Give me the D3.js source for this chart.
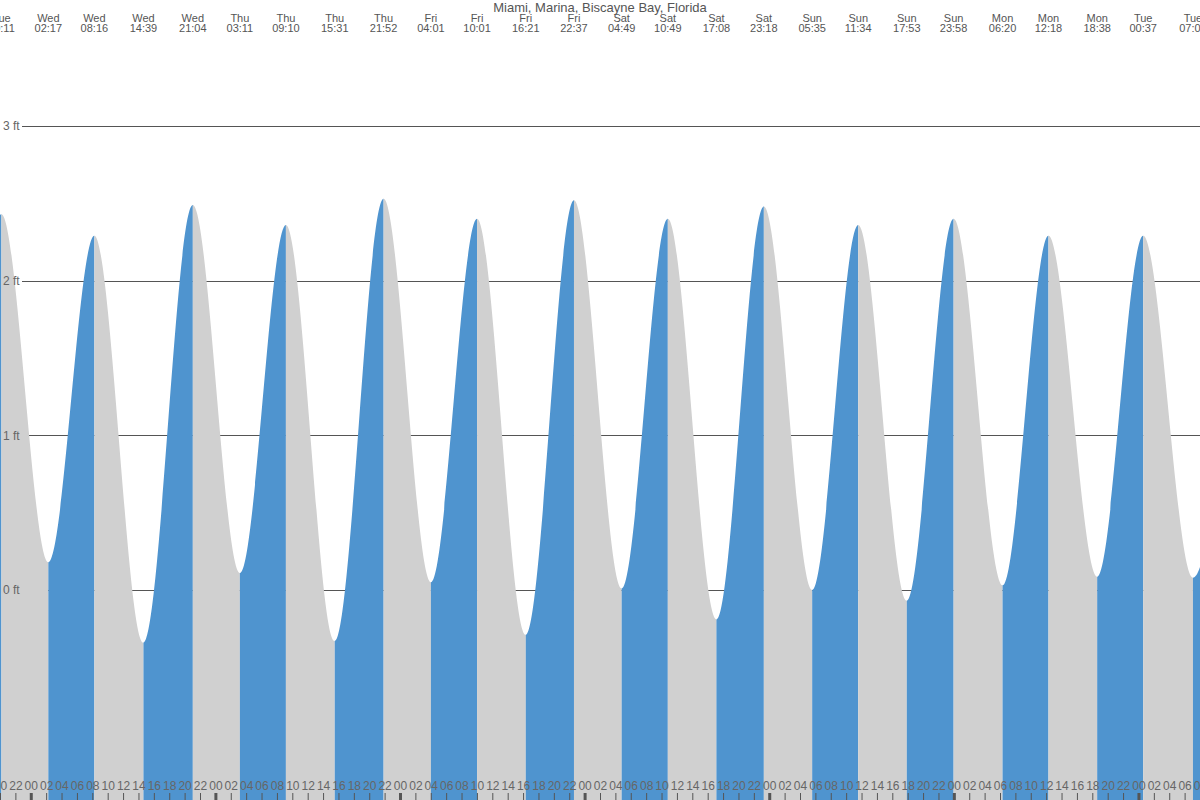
<!DOCTYPE html>
<html>
<head>
<meta charset="utf-8">
<script src="https://cdn.jsdelivr.net/npm/d3@7"></script>
<style>
  body { margin: 0; background: #fff; }
  svg { display: block; font-family: "Liberation Sans", Arial, sans-serif; }
</style>
</head>
<body>
<div id="chart"></div>
<script>
// Tide extremes as labelled along the top of the chart
const tideDays = ["Tue","Wed","Wed","Wed","Wed","Thu","Thu","Thu","Thu","Fri","Fri","Fri","Fri",
                  "Sat","Sat","Sat","Sat","Sun","Sun","Sun","Sun","Mon","Mon","Mon","Tue","Tue"];
const tideTimes = ["20:11","02:17","08:16","14:39","21:04","03:11","09:10","15:31","21:52","04:01","10:01","16:21","22:37",
                   "04:49","10:49","17:08","23:18","05:35","11:34","17:53","23:58","06:20","12:18","18:38","00:37","07:05"];
const tideHeights = [2.43, 0.18, 2.29, -0.34, 2.49, 0.11, 2.36, -0.33, 2.53, 0.05, 2.40, -0.29, 2.52,
                     0.01, 2.40, -0.19, 2.48, 0.00, 2.36, -0.07, 2.40, 0.03, 2.29, 0.085, 2.29, 0.08];

// estimated extremes just outside the window (hours from Wed 00:00), so the curve runs to the edges
const edgeBefore = { t: -10.2, h: -0.30 };
const edgeAfter = { t: 157.3, h: 2.30 };

const yTicks = [0, 1, 2, 3];
const hourTicks = d3.range(-4, 153, 2); // hours from Wed 00:00
const title = "Miami, Marina, Biscayne Bay, Florida";

const width = 1200, height = 800;
const dayOrder = ["Tue","Wed","Thu","Fri","Sat","Sun","Mon","Tue"];

// turn day name + clock time into hours from Wed 00:00
let dayIdx = 0;
const tides = tideDays.map(function(d, i) {
    if (d !== dayOrder[dayIdx]) dayIdx++;
    let hm = tideTimes[i].split(":");
    return {
        day: d,
        time: tideTimes[i],
        t: (dayIdx - 1) * 24 + (+hm[0]) + (+hm[1]) / 60,
        h: tideHeights[i]
    };
});
const curvePts = [edgeBefore].concat(tides, [edgeAfter]);

let x = d3.scaleLinear().domain([-4, 152]).range([0, width]);
let y = d3.scaleLinear().domain([0, 3]).range([590, 126]);

let svg = d3.select("#chart").append("svg")
    .attr("width", width)
    .attr("height", height);

// grid lines (under the tide fill)
svg.append("g").selectAll("line")
    .data(yTicks)
    .enter().append("line")
    .attr("x1", 22).attr("x2", width)
    .attr("y1", d => Math.round(y(d)) + 0.5)
    .attr("y2", d => Math.round(y(d)) + 0.5)
    .attr("stroke", "#555")
    .attr("stroke-width", 1);

// area under the tide curve, used as clip
let area = d3.area()
    .x(d => x(d.t))
    .y0(height)
    .y1(d => y(d.h))
    .curve(d3.curveMonotoneX);

svg.append("clipPath").attr("id", "tide-clip")
    .append("path")
    .attr("d", area(curvePts));

// rising stretches blue, falling stretches grey
let segs = d3.pairs(curvePts);
svg.append("g")
    .attr("clip-path", "url(#tide-clip)")
    .selectAll("rect")
    .data(segs)
    .enter().append("rect")
    .attr("x", d => x(d[0].t))
    .attr("width", d => x(d[1].t) - x(d[0].t))
    .attr("y", 0)
    .attr("height", height)
    .attr("fill", d => d[1].h > d[0].h ? "#4f94cf" : "#d0d0d0");

// y labels
svg.append("g").selectAll("text")
    .data(yTicks)
    .enter().append("text")
    .attr("x", 3)
    .attr("y", d => y(d))
    .attr("dy", "0.35em")
    .attr("font-size", 12)
    .attr("fill", "#666")
    .text(d => d + " ft");

// hour axis along the bottom
let axis = svg.append("g")
    .attr("transform", "translate(0," + height + ")")
    .call(d3.axisTop(x)
        .tickValues(hourTicks)
        .tickSize(7)
        .tickPadding(3)
        .tickFormat(d => String(((d % 24) + 24) % 24).padStart(2, "0")));
axis.select(".domain").remove();
axis.selectAll(".tick line")
    .attr("stroke", "#555")
    .attr("stroke-width", d => (((d % 24) + 24) % 24) === 0 ? 3 : 1);
axis.selectAll(".tick text")
    .attr("fill", "#666")
    .attr("font-size", 12)
    .attr("font-family", "Liberation Sans, Arial, sans-serif");

// tide time labels along the top
let topLabels = svg.append("g").selectAll("g")
    .data(tides)
    .enter().append("g")
    .attr("transform", d => "translate(" + x(d.t) + ",0)");
topLabels.append("text")
    .attr("y", 22)
    .attr("text-anchor", "middle")
    .attr("font-size", 11)
    .attr("fill", "#555")
    .text(d => d.day);
topLabels.append("text")
    .attr("y", 32)
    .attr("text-anchor", "middle")
    .attr("font-size", 11)
    .attr("fill", "#555")
    .text(d => d.time);

svg.append("text")
    .attr("x", width / 2)
    .attr("y", 12)
    .attr("text-anchor", "middle")
    .attr("font-size", 13)
    .attr("fill", "#555")
    .text(title);
</script>
</body>
</html>
